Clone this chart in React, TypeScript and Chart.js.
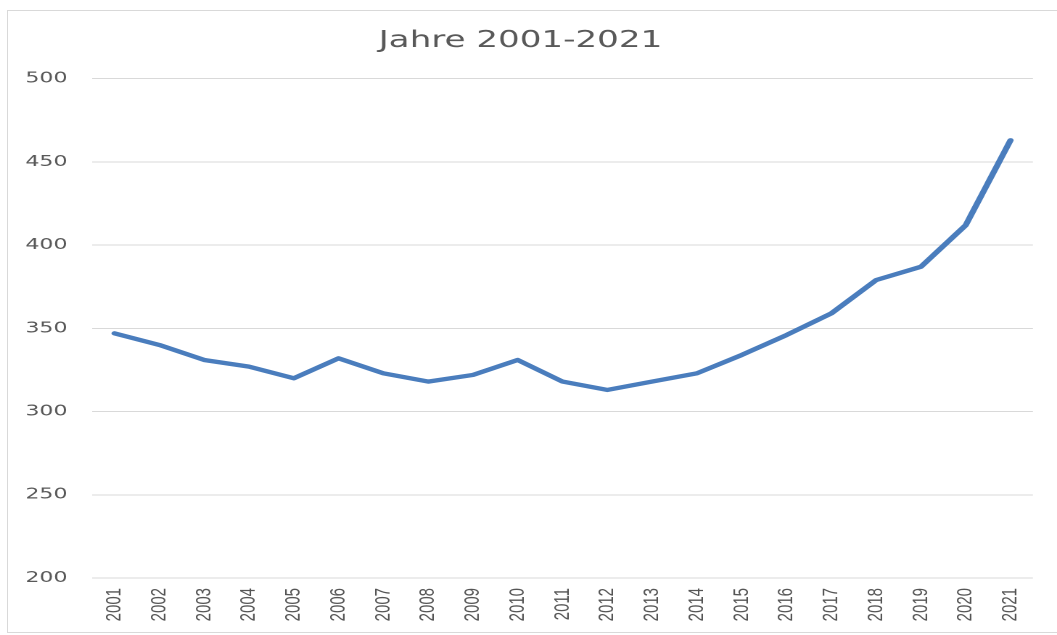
import React, { useEffect, useRef } from "react";
import { Chart, registerables } from "chart.js";
Chart.register(...registerables);

const years = ["2001","2002","2003","2004","2005","2006","2007","2008","2009","2010","2011","2012","2013","2014","2015","2016","2017","2018","2019","2020","2021"];
const values = [347, 340, 331, 327, 320, 332, 323, 318, 322, 331, 318, 313, 318, 323, 334, 346, 359, 379, 387, 412, 463];
const yTicks = [200, 250, 300, 350, 400, 450, 500];
const titleText = "Jahre 2001-2021";

export default function App() {
  const ref = useRef<HTMLCanvasElement>(null);
  useEffect(() => {
    const chart = new Chart(ref.current!, {
      type: "line",
      data: {
        labels: years,
        datasets: [
          {
            data: values,
            borderColor: "#4a7dbd",
            backgroundColor: "#4a7dbd",
            borderWidth: 4.3,
            pointRadius: 0,
            tension: 0,
            borderCapStyle: "round",
            borderJoinStyle: "round",
            fill: false,
          },
        ],
      },
      options: {
        responsive: false,
        animation: false,
        devicePixelRatio: 2,
        layout: { padding: { left: 0, right: 16.6, top: 0, bottom: 0 } },
        plugins: {
          legend: { display: false },
          tooltip: { enabled: false },
          title: {
            display: true,
            text: titleText,
            color: "#595959",
            font: { family: "DejaVu Sans", size: 23.5, weight: "normal" },
            padding: { top: 16, bottom: 23.5 },
          },
        },
        scales: {
          x: {
            offset: true,
            grid: { display: false, drawTicks: false },
            border: { display: false },
            ticks: {
              minRotation: 90,
              maxRotation: 90,
              autoSkip: false,
              padding: 10,
              color: "#555555",
              font: { family: "Liberation Sans", size: 15 },
            },
            afterFit: (s: any) => {
              s.height = 54;
            },
          },
          y: {
            min: 200,
            max: 500,
            afterBuildTicks: (s: any) => {
              s.ticks = yTicks.map((v) => ({ value: v }));
            },
            grid: { color: "#d9d9d9", lineWidth: 1, drawTicks: false },
            border: { display: false },
            ticks: {
              padding: 17,
              color: "#595959",
              font: { family: "DejaVu Sans", size: 15.2 },
            },
            afterFit: (s: any) => {
              s.width = 58;
            },
          },
        },
      },
    });
    return () => chart.destroy();
  }, []);
  return (
    <div>
      <div
        style={{
          position: "fixed",
          left: 7,
          top: 10,
          width: 1050,
          height: 623,
          boxSizing: "border-box",
          border: "1px solid #d9d9d9",
          borderRight: "none",
        }}
      />
      <canvas
        ref={ref}
        width={723}
        height={621}
        style={{ position: "fixed", left: 8, top: 11, width: "1049px", height: "621px" }}
      />
    </div>
  );
}
